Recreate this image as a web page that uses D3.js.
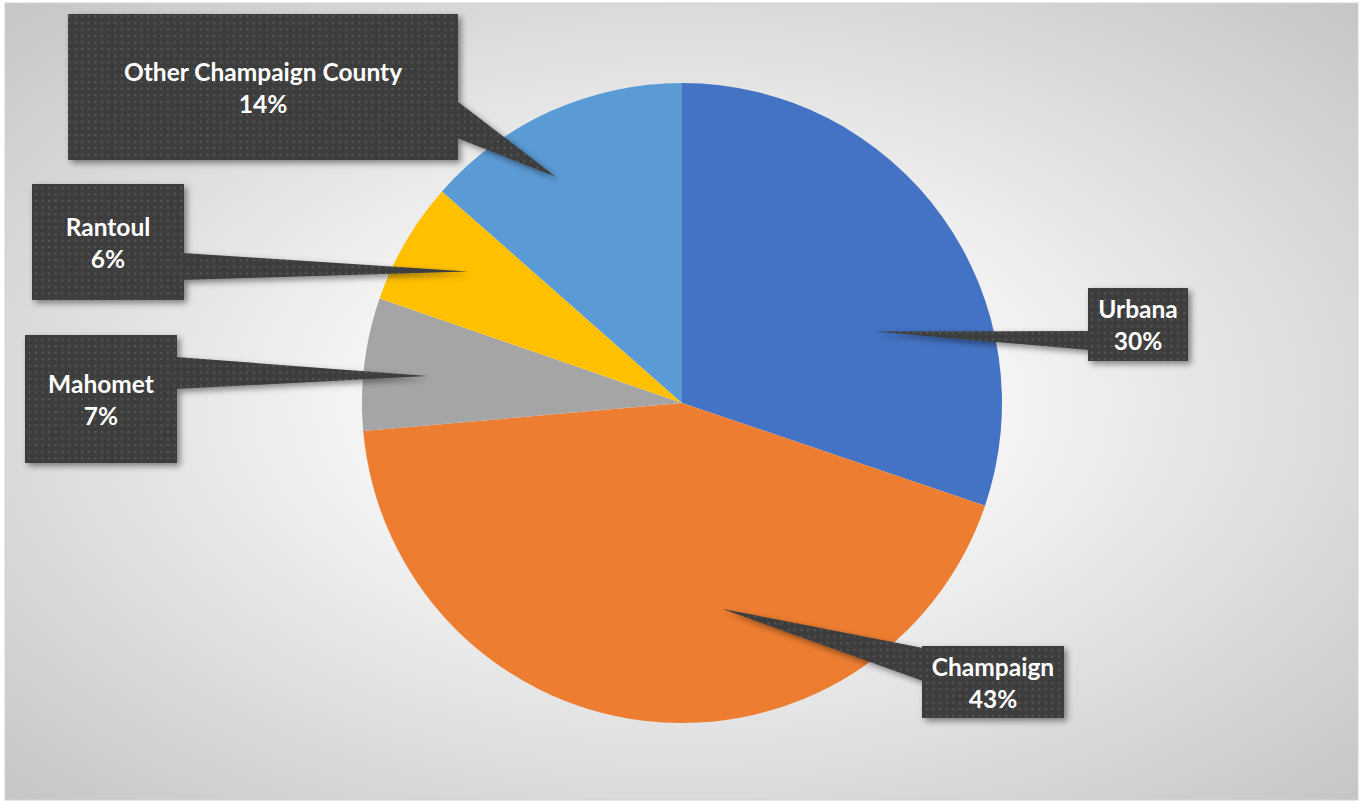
<!DOCTYPE html>
<html>
<head>
<meta charset="utf-8">
<script src="https://cdn.jsdelivr.net/npm/d3@7"></script>
<style>
  body { margin: 0; background: #fff; }
  svg { display: block; }
</style>
</head>
<body>
<div class="pie-container"></div>
<script>
// data
const towns = ['Urbana', 'Champaign', 'Mahomet', 'Rantoul', 'Other Champaign County'];
const shares = [30.2, 43.4, 6.7, 6.2, 13.5];
const colors = ['#4472C4', '#ED7D31', '#A5A5A5', '#FFC000', '#5B9BD5'];

// callout layout: box [x, y, w, h], side the leader leaves from, base y range on that side,
// tip placed inside the slice by angle fraction + radius fraction
const boxes = [
    [1088, 288, 100, 73],
    [922, 646, 142, 72],
    [25, 335, 152, 128],
    [32, 184, 152, 116],
    [68, 14, 390, 146]
];
const leaderSide = ['left', 'left', 'right', 'right', 'right'];
const leaderBase = [[331, 350], [648, 681], [357, 389], [253, 280], [101, 138]];
const tipAngleFrac = [0.64, 0.386, 0.46, 0.56, 0.40];
const tipRadiusFrac = [0.64, 0.655, 0.80, 0.785, 0.81];

function setupCanvas(){
    const svg_width = 1360;
    const svg_height = 801;
    const cx = 682, cy = 403, radius = 320;

    const svg = d3.select('.pie-container').append('svg')
        .attr('width', svg_width).attr('height', svg_height);

    const defs = svg.append('defs');

    // background gradient (white centre, grey corners)
    const grad = defs.append('radialGradient').attr('id', 'bg')
        .attr('cx', '50%').attr('cy', '50%').attr('r', '72%');
    grad.append('stop').attr('offset', '0%').attr('stop-color', '#ffffff');
    grad.append('stop').attr('offset', '30%').attr('stop-color', '#f6f6f6');
    grad.append('stop').attr('offset', '100%').attr('stop-color', '#c4c4c4');

    // dotted dark fill for the callouts
    const pat = defs.append('pattern').attr('id', 'dots')
        .attr('patternUnits', 'userSpaceOnUse')
        .attr('width', 6.6).attr('height', 6.6);
    pat.append('rect').attr('width', 6.6).attr('height', 6.6).attr('fill', '#3d3d3d');
    pat.append('rect').attr('x', 2).attr('y', 2).attr('width', 2).attr('height', 2).attr('fill', '#585858');

    const shadow = defs.append('filter').attr('id', 'shadow')
        .attr('x', '-20%').attr('y', '-20%').attr('width', '140%').attr('height', '140%');
    shadow.append('feDropShadow')
        .attr('dx', 3).attr('dy', 3).attr('stdDeviation', 3)
        .attr('flood-color', '#000').attr('flood-opacity', 0.45);

    svg.append('rect')
        .attr('x', 5).attr('y', 3).attr('width', 1353).attr('height', 797)
        .attr('fill', 'url(#bg)')
        .attr('stroke', '#d4d4d4').attr('stroke-width', 1);

    const pieData = d3.pie().sort(null).value(d => d)(shares);
    const arc = d3.arc().innerRadius(0).outerRadius(radius);
    const fmt = v => Math.round(v) + '%';

    const chart = svg.append('g').attr('transform', `translate(${cx},${cy})`);

    chart.selectAll('.slice')
        .data(pieData)
        .enter()
        .append('path').attr('class', 'slice')
        .attr('d', arc)
        .attr('fill', (d, i) => colors[i]);

    // callouts
    const callouts = svg.append('g').attr('class', 'callouts');
    pieData.forEach((d, i) => {
        const [bx, by, bw, bh] = boxes[i];
        const a = d.startAngle + (d.endAngle - d.startAngle) * tipAngleFrac[i];
        const r = radius * tipRadiusFrac[i];
        const tip = [cx + r * Math.sin(a), cy - r * Math.cos(a)];
        const sx = leaderSide[i] === 'left' ? bx + 1 : bx + bw - 1;
        const [y0, y1] = leaderBase[i];

        const g = callouts.append('g').attr('filter', 'url(#shadow)');
        g.append('path')
            .attr('d', `M${sx},${y0}L${tip[0]},${tip[1]}L${sx},${y1}Z`)
            .attr('fill', 'url(#dots)');
        g.append('rect')
            .attr('x', bx).attr('y', by).attr('width', bw).attr('height', bh)
            .attr('fill', 'url(#dots)');

        const label = callouts.append('text')
            .attr('x', bx + bw / 2)
            .attr('y', by + bh / 2 - 15)
            .attr('text-anchor', 'middle')
            .style('font-family', 'Lato, "Open Sans", sans-serif')
            .style('font-weight', 'bold')
            .style('font-size', '24.5px')
            .style('fill', '#ffffff');
        label.append('tspan').attr('x', bx + bw / 2).attr('dy', '0.35em').text(towns[i]);
        label.append('tspan').attr('x', bx + bw / 2).attr('dy', 32).text(fmt(d.data));
    });
}

setupCanvas();
</script>
</body>
</html>
